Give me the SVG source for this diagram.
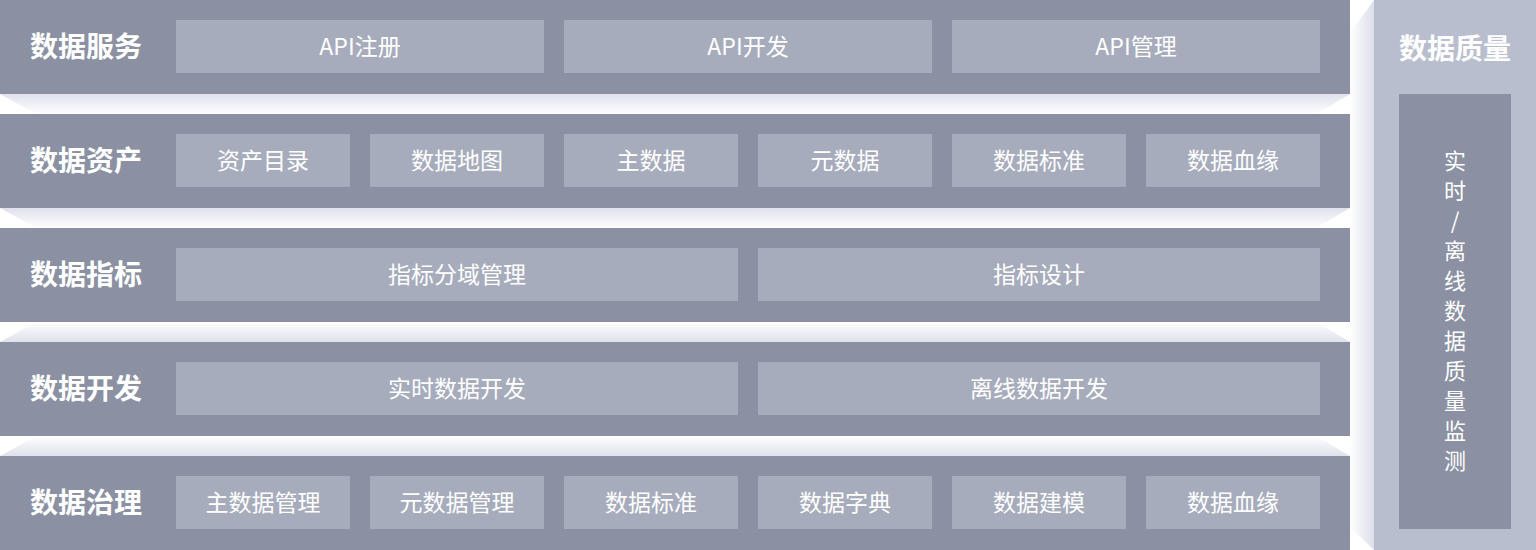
<svg xmlns="http://www.w3.org/2000/svg" width="1536" height="550" viewBox="0 0 1536 550">
<defs>
<linearGradient id="gDown" x1="0" y1="0" x2="0" y2="1"><stop offset="0" stop-color="#dfe1ec"/><stop offset="1" stop-color="#ffffff"/></linearGradient>
<linearGradient id="gUp" x1="0" y1="0" x2="0" y2="1"><stop offset="0" stop-color="#ffffff"/><stop offset="1" stop-color="#dfe1ec"/></linearGradient>
<linearGradient id="gSide" x1="0" y1="0" x2="1" y2="0"><stop offset="0" stop-color="#ffffff"/><stop offset="1" stop-color="#dcdfeb"/></linearGradient>
<style>
.band{fill:#8b91a2}
.box{fill:#a7acbc}
.lbl{font-family:"Noto Sans CJK SC","Noto Sans",sans-serif;font-size:28px;font-weight:bold;fill:#ffffff;dominant-baseline:central}
.txt{font-family:"Noto Sans CJK SC","Noto Sans",sans-serif;font-size:23px;fill:#ffffff;text-anchor:middle;dominant-baseline:central}
.vert{font-family:"Noto Sans CJK SC","Noto Sans",sans-serif;font-size:22px;fill:#ffffff;writing-mode:vertical-rl;text-orientation:upright;letter-spacing:8px}
.tri{fill:#ffffff}
</style>
</defs>
<rect width="1536" height="550" fill="#ffffff"/>
<g id="gaps">
<rect x="0" y="94" width="1350" height="20" fill="url(#gDown)"/>
<polygon class="tri" points="0,94 36,114 0,114"/><polygon class="tri" points="1350,94 1350,114 1316,114"/>
<rect x="0" y="208" width="1350" height="20" fill="url(#gDown)"/>
<polygon class="tri" points="0,208 36,228 0,228"/><polygon class="tri" points="1350,208 1350,228 1316,228"/>
<rect x="0" y="322" width="1350" height="20" fill="url(#gUp)"/>
<polygon class="tri" points="0,322 36,322 0,342"/><polygon class="tri" points="1316,322 1350,322 1350,342"/>
<rect x="0" y="436" width="1350" height="20" fill="url(#gUp)"/>
<polygon class="tri" points="0,436 36,436 0,456"/><polygon class="tri" points="1316,436 1350,436 1350,456"/>
<rect x="1350" y="0" width="24" height="550" fill="url(#gSide)"/>
<polygon class="tri" points="1350,0 1374,0 1350,33"/><polygon class="tri" points="1350,527 1374,550 1350,550"/>
</g>
<g id="row-service">
<rect class="band" x="0" y="0" width="1350" height="94"/>
<text class="lbl" x="30" y="45">数据服务</text>
<rect class="box" x="176" y="20" width="368" height="53"/><text class="txt" x="360" y="45">API注册</text>
<rect class="box" x="564" y="20" width="368" height="53"/><text class="txt" x="748" y="45">API开发</text>
<rect class="box" x="952" y="20" width="368" height="53"/><text class="txt" x="1136" y="45">API管理</text>
</g>
<g id="row-asset">
<rect class="band" x="0" y="114" width="1350" height="94"/>
<text class="lbl" x="30" y="159">数据资产</text>
<rect class="box" x="176" y="134" width="174" height="53"/><text class="txt" x="263" y="159">资产目录</text>
<rect class="box" x="370" y="134" width="174" height="53"/><text class="txt" x="457" y="159">数据地图</text>
<rect class="box" x="564" y="134" width="174" height="53"/><text class="txt" x="651" y="159">主数据</text>
<rect class="box" x="758" y="134" width="174" height="53"/><text class="txt" x="845" y="159">元数据</text>
<rect class="box" x="952" y="134" width="174" height="53"/><text class="txt" x="1039" y="159">数据标准</text>
<rect class="box" x="1146" y="134" width="174" height="53"/><text class="txt" x="1233" y="159">数据血缘</text>
</g>
<g id="row-metric">
<rect class="band" x="0" y="228" width="1350" height="94"/>
<text class="lbl" x="30" y="273">数据指标</text>
<rect class="box" x="176" y="248" width="562" height="53"/><text class="txt" x="457" y="273">指标分域管理</text>
<rect class="box" x="758" y="248" width="562" height="53"/><text class="txt" x="1039" y="273">指标设计</text>
</g>
<g id="row-dev">
<rect class="band" x="0" y="342" width="1350" height="94"/>
<text class="lbl" x="30" y="387">数据开发</text>
<rect class="box" x="176" y="362" width="562" height="53"/><text class="txt" x="457" y="387">实时数据开发</text>
<rect class="box" x="758" y="362" width="562" height="53"/><text class="txt" x="1039" y="387">离线数据开发</text>
</g>
<g id="row-gov">
<rect class="band" x="0" y="456" width="1350" height="94"/>
<text class="lbl" x="30" y="501">数据治理</text>
<rect class="box" x="176" y="476" width="174" height="53"/><text class="txt" x="263" y="501">主数据管理</text>
<rect class="box" x="370" y="476" width="174" height="53"/><text class="txt" x="457" y="501">元数据管理</text>
<rect class="box" x="564" y="476" width="174" height="53"/><text class="txt" x="651" y="501">数据标准</text>
<rect class="box" x="758" y="476" width="174" height="53"/><text class="txt" x="845" y="501">数据字典</text>
<rect class="box" x="952" y="476" width="174" height="53"/><text class="txt" x="1039" y="501">数据建模</text>
<rect class="box" x="1146" y="476" width="174" height="53"/><text class="txt" x="1233" y="501">数据血缘</text>
</g>
<g id="quality">
<rect x="1374" y="0" width="162" height="550" fill="#b9bece"/>
<text class="lbl" x="1455" y="47" text-anchor="middle">数据质量</text>
<rect x="1399" y="94" width="112" height="435" fill="#8b91a2"/>
<text class="vert" x="1455" y="150">实时/离线数据质量监测</text>
</g>
<g id="connectors"/>
</svg>
